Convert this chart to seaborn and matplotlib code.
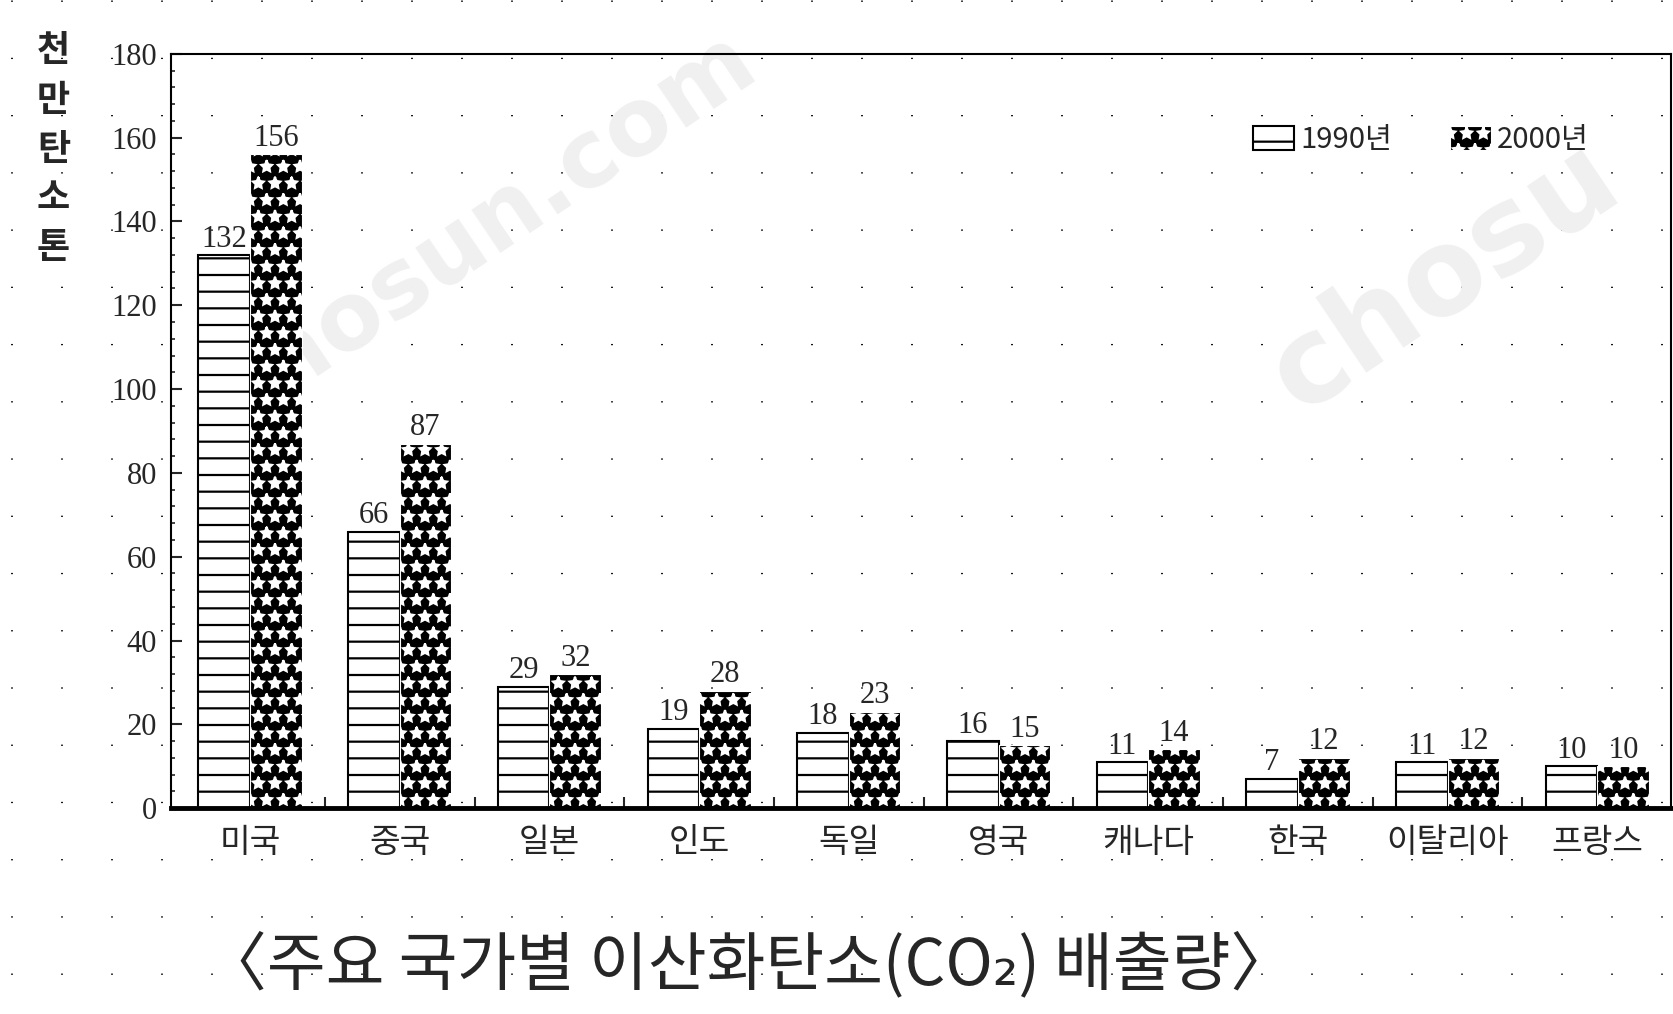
import numpy as np
import pandas as pd
import matplotlib.pyplot as plt
from matplotlib.ticker import MultipleLocator, FixedLocator
import seaborn as sns

# data (unit: 천만 탄소톤)
countries = ["미국", "중국", "일본", "인도", "독일", "영국", "캐나다", "한국", "이탈리아", "프랑스"]
years = ["1990년", "2000년"]
co2_1990 = [132, 66, 29, 19, 18, 16, 11, 7, 11, 10]
co2_2000 = [156, 87, 32, 28, 23, 15, 14, 12, 12, 10]
y_ticks = [0, 20, 40, 60, 80, 100, 120, 140, 160, 180]

sns.set_theme(style="white")
plt.rcParams["font.family"] = ["Noto Sans CJK KR", "DejaVu Sans"]
plt.rcParams["hatch.linewidth"] = 1.6

df = pd.DataFrame({
    "국가": countries * 2,
    "연도": [years[0]] * len(countries) + [years[1]] * len(countries),
    "배출량": co2_1990 + co2_2000,
})

serif = ["Liberation Serif", "DejaVu Serif"]

fig = plt.figure(figsize=(16.74, 10.14), dpi=100)
fig.patch.set_facecolor("white")

# dotted paper background + faint watermark
bg = fig.add_axes([0, 0, 1, 1], zorder=0)
bg.set_xlim(0, 1674)
bg.set_ylim(0, 1014)
bg.set_xticks(np.arange(12, 1674, 50))
bg.set_yticks([])
bg.tick_params(length=0, labelbottom=False, labelleft=False)
bg.grid(axis="x", color="black", linewidth=1.3, linestyle=(10, (0.7, 31)))
for s in bg.spines.values():
    s.set_visible(False)
bg.text(235, 585, "chosun.com", rotation=34, rotation_mode="anchor",
        fontsize=68, fontweight="bold", color="#f0f0f0", family="DejaVu Sans")
bg.text(1300, 600, "chosu", rotation=34, rotation_mode="anchor",
        fontsize=86, fontweight="bold", color="#f0f0f0", family="DejaVu Sans")

ax = fig.add_axes([0.102, 0.203, 0.896, 0.744], zorder=1)
ax.set_facecolor("none")
sns.barplot(data=df, x="국가", y="배출량", hue="연도", palette=["white", "black"],
            width=0.69, saturation=1, ax=ax, legend=False)

# 1990: white with horizontal stripes, 2000: black with white stars
for bar in ax.containers[0]:
    bar.set_facecolor("white")
    bar.set_edgecolor("black")
    bar.set_hatch("-")
    bar.set_linewidth(1.5)
for bar in ax.containers[1]:
    bar.set_facecolor("black")
    bar.set_edgecolor("white")
    bar.set_hatch("*")
    bar.set_linewidth(0.8)

for c in ax.containers:
    ax.bar_label(c, padding=1, fontsize=22, family=serif)

ax.set_xlim(-0.53, 9.49)
ax.set_ylim(0, 180)
ax.set_yticks(y_ticks)
ax.yaxis.set_minor_locator(MultipleLocator(4))
ax.xaxis.set_minor_locator(FixedLocator(np.arange(0.5, 9, 1)))
ax.tick_params(axis="x", which="major", length=0, labelsize=24, pad=12)
ax.tick_params(axis="x", which="minor", bottom=True, direction="in", length=8, width=1.5)
ax.tick_params(axis="y", which="major", left=True, direction="in", length=8, width=1.5, pad=10)
ax.tick_params(axis="y", which="minor", left=True, direction="in", length=3, width=1.2)
for lab in ax.get_yticklabels():
    lab.set_family(serif)
    lab.set_fontsize(22)
ax.set_xlabel("")
ax.set_ylabel("")

for side, s in ax.spines.items():
    s.set_visible(True)
    s.set_color("black")
    s.set_linewidth(1.5)
ax.spines["bottom"].set_linewidth(3.5)

ax.legend(ax.containers, years, loc="upper right", bbox_to_anchor=(0.963, 0.94),
          ncol=2, frameon=False, fontsize=21, handlelength=1.4, handleheight=0.9,
          columnspacing=2.0, handletextpad=0.2)

fig.text(0.032, 0.968, "천\n만\n탄\n소\n톤", ha="center", va="top",
         fontsize=26, fontweight="bold", linespacing=1.42)
fig.text(0.447, 0.047, "〈주요 국가별 이산화탄소(CO₂) 배출량〉", ha="center", va="center",
         fontsize=46)

fig.savefig("out.png", dpi=100, facecolor="white")
